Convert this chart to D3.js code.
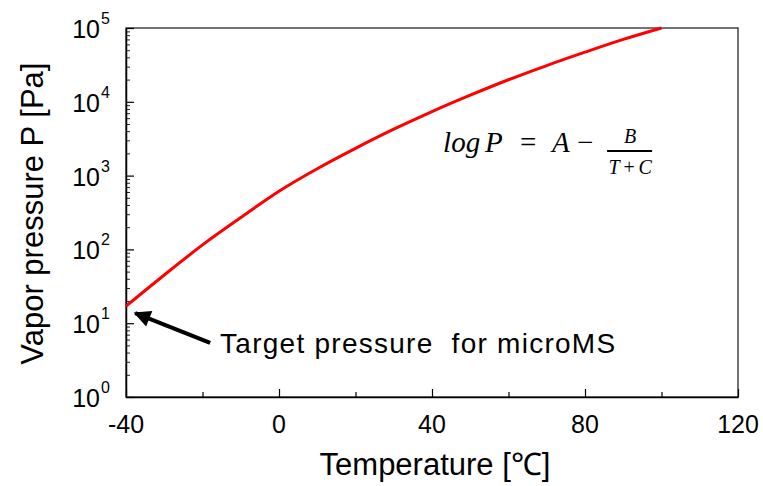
<!DOCTYPE html>
<html>
<head>
<meta charset="utf-8">
<script src="https://cdn.jsdelivr.net/npm/d3@7"></script>
<style>
  body { margin: 0; background: #fff; }
  text { font-family: Arial, "Liberation Sans", sans-serif; fill: #000; }
</style>
</head>
<body>
<div id="chart"></div>
<script>
// vapor pressure, every 10 degrees
var temps = [-40, -30, -20, -10, 0, 10, 20, 30, 40, 50, 60, 70, 80, 90, 100];
var pressures = [17, 45, 115, 270, 615, 1240, 2340, 4250, 7380, 12300, 19900, 31000, 47000, 70000, 100000];

var xTicks = [-40, 0, 40, 80, 120];
var xMinorTicks = [-20, 20, 60, 100];
var yTicks = [1, 10, 100, 1000, 10000, 100000];
var yExponents = ["0", "1", "2", "3", "4", "5"];

// arrow annotation: [temperature, pressure]
var arrowTail = [-18, 5.4];
var arrowTip = [-37.6, 13.7];
var noteAt = [-15.4, 3.95];
var noteText = "Target pressure  for microMS";
var formulaAt = [42.9, 2090];

var margin = { top: 28, right: 25, bottom: 89, left: 126 },
    W = 763, H = 486,
    width = W - margin.left - margin.right,
    height = H - margin.top - margin.bottom;

var svg = d3.select("#chart").append("svg")
    .attr("width", W)
    .attr("height", H);

var g = svg.append("g")
    .attr("transform", "translate(" + margin.left + "," + margin.top + ")");

var x = d3.scaleLinear().domain([-40, 120]).range([0, width]);
var y = d3.scaleLog().domain([1, 1e5]).range([height, 0]);

// minor log ticks 2..9 for every decade
var yMinor = [];
for (var e = 0; e < 5; e++) {
    for (var m = 2; m <= 9; m++) yMinor.push(m * Math.pow(10, e));
}

// frame
g.append("rect")
    .attr("width", width)
    .attr("height", height)
    .attr("fill", "none")
    .attr("stroke", "#444")
    .attr("stroke-width", 1.5);

// y axis, ticks pointing inward
g.append("g")
    .call(d3.axisLeft(y).tickValues(yMinor).tickSize(-4).tickFormat(""))
    .call(function (a) { a.select(".domain").remove(); })
    .selectAll("line").attr("stroke", "#222").attr("stroke-width", 1);

g.append("g")
    .call(d3.axisLeft(y).tickValues(yTicks).tickSize(-8).tickSizeOuter(0).tickFormat(""))
    .call(function (a) { a.select(".domain").attr("stroke", "#000").attr("stroke-width", 1.5); })
    .selectAll("line").attr("stroke", "#000").attr("stroke-width", 1.2);

// x axis, ticks pointing inward
g.append("g")
    .attr("transform", "translate(0," + height + ")")
    .call(d3.axisBottom(x).tickValues(xMinorTicks).tickSize(-5).tickFormat(""))
    .call(function (a) { a.select(".domain").remove(); })
    .selectAll("line").attr("stroke", "#000").attr("stroke-width", 1.2);

g.append("g")
    .attr("transform", "translate(0," + height + ")")
    .call(d3.axisBottom(x).tickValues(xTicks).tickSize(-8).tickSizeOuter(0).tickFormat(""))
    .call(function (a) { a.select(".domain").attr("stroke", "#000").attr("stroke-width", 1.5); })
    .selectAll("line").attr("stroke", "#000").attr("stroke-width", 1.2);

// x tick labels
g.selectAll(".xlab")
    .data(xTicks)
    .enter().append("text")
    .attr("class", "xlab")
    .attr("x", function (d) { return x(d); })
    .attr("y", height + 36)
    .attr("text-anchor", "middle")
    .style("font-size", "25px")
    .text(function (d) { return d; });

// y tick labels as 10 with superscript
var ylab = g.selectAll(".ylab")
    .data(yTicks)
    .enter().append("g")
    .attr("class", "ylab")
    .attr("transform", function (d) { return "translate(-26," + y(d) + ")"; });

ylab.append("text")
    .attr("y", 10)
    .attr("text-anchor", "end")
    .style("font-size", "25px")
    .text("10");

ylab.append("text")
    .attr("x", 1)
    .attr("y", -4)
    .style("font-size", "16px")
    .text(function (d, i) { return yExponents[i]; });

// axis titles
g.append("text")
    .attr("x", x(40) + 3)
    .attr("y", height + 78)
    .attr("text-anchor", "middle")
    .style("font-size", "31px")
    .text("Temperature [\u2103]");

svg.append("text")
    .attr("transform", "translate(43," + (margin.top + y(1000) + 38) + ") rotate(-90)")
    .attr("text-anchor", "middle")
    .style("font-size", "31px")
    .text("Vapor pressure P [Pa]");

// curve
var line = d3.line()
    .x(function (d, i) { return x(temps[i]); })
    .y(function (d) { return y(d); })
    .curve(d3.curveMonotoneX);

g.append("path")
    .datum(pressures)
    .attr("d", line)
    .attr("fill", "none")
    .attr("stroke", "#ff0000")
    .attr("stroke-width", 3);

// arrow
svg.append("defs").append("marker")
    .attr("id", "head")
    .attr("viewBox", "0 0 10 10")
    .attr("refX", 9)
    .attr("refY", 5)
    .attr("markerWidth", 5)
    .attr("markerHeight", 4.2)
    .attr("markerUnits", "strokeWidth")
    .attr("orient", "auto")
    .append("path")
    .attr("d", "M0,0 L10,5 L0,10 Z")
    .attr("fill", "#000");

g.append("line")
    .attr("x1", x(arrowTail[0]))
    .attr("y1", y(arrowTail[1]))
    .attr("x2", x(arrowTip[0]))
    .attr("y2", y(arrowTip[1]))
    .attr("stroke", "#000")
    .attr("stroke-width", 4)
    .attr("marker-end", "url(#head)");

g.append("text")
    .attr("x", x(noteAt[0]))
    .attr("y", y(noteAt[1]))
    .attr("xml:space", "preserve")
    .attr("textLength", 395)
    .attr("lengthAdjust", "spacing")
    .style("white-space", "pre")
    .style("font-size", "28px")
    .text(noteText);

// formula log P = A - B/(T+C)
var f = g.append("g")
    .attr("transform", "translate(" + x(formulaAt[0]) + "," + y(formulaAt[1]) + ")")
    .style("font-family", "'Liberation Serif', serif");

var ft = f.append("text")
    .style("font-family", "'Liberation Serif', serif")
    .style("font-size", "29px");
ft.append("tspan").attr("x", 0).style("font-style", "italic").text("log");
ft.append("tspan").attr("x", 42).style("font-style", "italic").text("P");
ft.append("tspan").attr("x", 77).text("=");
ft.append("tspan").attr("x", 109).style("font-style", "italic").text("A");
ft.append("tspan").attr("x", 134).text("\u2212");

f.append("line")
    .attr("x1", 164).attr("x2", 209)
    .attr("y1", -1).attr("y2", -1)
    .attr("stroke", "#000")
    .attr("stroke-width", 2);

// fraction parts: [text, x center, y baseline, italic]
var fracParts = [["B", 187, -9, true], ["T", 171, 22, true], ["+", 186, 22, false], ["C", 202, 22, true]];
f.selectAll(".frac")
    .data(fracParts)
    .enter().append("text")
    .attr("class", "frac")
    .attr("x", function (d) { return d[1]; })
    .attr("y", function (d) { return d[2]; })
    .attr("text-anchor", "middle")
    .style("font-family", "'Liberation Serif', serif")
    .style("font-style", function (d) { return d[3] ? "italic" : "normal"; })
    .style("font-size", "20px")
    .text(function (d) { return d[0]; });
</script>
</body>
</html>
